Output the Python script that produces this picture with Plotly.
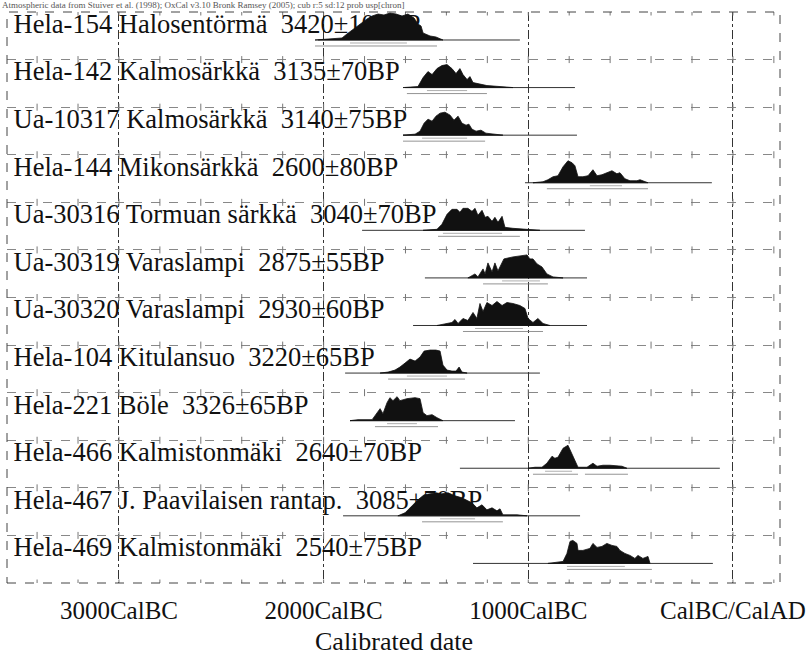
import plotly.graph_objects as go

# ---------------- data (years are BC) ----------------
labels = [
    "Hela-154 Halosentörmä\u00a0 3420±100BP",
    "Hela-142 Kalmosärkkä\u00a0 3135±70BP",
    "Ua-10317 Kalmosärkkä\u00a0 3140±75BP",
    "Hela-144 Mikonsärkkä\u00a0 2600±80BP",
    "Ua-30316 Tormuan särkkä\u00a0 3040±70BP",
    "Ua-30319 Varaslampi\u00a0 2875±55BP",
    "Ua-30320 Varaslampi\u00a0 2930±60BP",
    "Hela-104 Kitulansuo\u00a0 3220±65BP",
    "Hela-221 Böle\u00a0 3326±65BP",
    "Hela-466 Kalmistonmäki\u00a0 2640±70BP",
    "Hela-467 J. Paavilaisen rantap.\u00a0 3085±70BP",
    "Hela-469 Kalmistonmäki\u00a0 2540±75BP",
]

years_1 = [2042, 1969, 1910, 1886, 1861, 1837, 1812, 1788, 1763, 1734, 1705, 1676, 1646, 1617, 1588, 1558, 1539, 1524, 1514, 1480, 1451, 1417]
prob_1 = [0, 1, 2, 6, 10, 14, 18, 21, 24, 26, 25, 27, 26, 24, 26, 22, 16, 14, 7, 4, 3, 0]

years_2 = [1612, 1539, 1514, 1490, 1470, 1446, 1422, 1397, 1373, 1353, 1334, 1319, 1299, 1285, 1270, 1246, 1226, 1202, 1138, 1075]
prob_2 = [0, 1, 10, 16, 13, 19, 22, 23, 19, 14, 19, 13, 8, 11, 5, 4, 3, 2, 1, 0]

years_3 = [1612, 1553, 1529, 1509, 1490, 1470, 1451, 1431, 1407, 1382, 1363, 1343, 1324, 1304, 1290, 1275, 1255, 1231, 1207, 1163, 1124]
prob_3 = [0, 1, 4, 12, 16, 14, 19, 22, 23, 20, 15, 19, 12, 10, 11, 6, 4, 5, 2, 1, 0]

years_4 = [977, 928, 904, 879, 855, 830, 806, 786, 772, 757, 733, 708, 684, 664, 640, 616, 591, 567, 552, 528, 503, 469, 454, 415]
prob_4 = [0, 1, 3, 6, 7, 16, 22, 20, 17, 6, 6, 7, 13, 7, 8, 10, 12, 9, 10, 4, 2, 2, 3, 0]

years_5 = [1514, 1446, 1422, 1397, 1373, 1348, 1334, 1319, 1295, 1275, 1260, 1246, 1226, 1211, 1197, 1177, 1163, 1148, 1128, 1114, 1075, 1026, 943]
prob_5 = [0, 1, 6, 16, 21, 21, 18, 22, 22, 19, 22, 15, 20, 13, 14, 9, 13, 8, 14, 3, 2, 1, 0]

years_6 = [1295, 1260, 1246, 1221, 1211, 1197, 1177, 1163, 1148, 1128, 1119, 1075, 1041, 1006, 992, 977, 957, 933, 909, 879, 830]
prob_6 = [0, 4, 1, 9, 4, 15, 6, 15, 7, 16, 19, 21, 22, 23, 19, 19, 14, 11, 4, 1, 0]

years_7 = [1446, 1373, 1358, 1343, 1319, 1295, 1270, 1251, 1236, 1221, 1202, 1177, 1153, 1128, 1104, 1075, 1041, 1016, 1001, 977, 953, 928, 894]
prob_7 = [0, 3, 6, 2, 7, 5, 13, 7, 22, 14, 23, 20, 24, 20, 23, 22, 20, 17, 7, 3, 7, 2, 0]

years_8 = [1724, 1685, 1651, 1627, 1602, 1578, 1553, 1529, 1509, 1480, 1451, 1431, 1417, 1397, 1373, 1353, 1338, 1324, 1299]
prob_8 = [0, 1, 3, 6, 10, 14, 12, 16, 22, 23, 23, 22, 8, 3, 2, 2, 6, 1, 0]

years_9 = [1871, 1832, 1763, 1739, 1724, 1710, 1690, 1676, 1661, 1641, 1627, 1593, 1553, 1529, 1514, 1495, 1470, 1446, 1417]
prob_9 = [0, 1, 1, 8, 12, 7, 18, 23, 20, 24, 20, 22, 23, 22, 8, 5, 6, 3, 0]

years_10 = [1001, 967, 933, 909, 884, 870, 855, 830, 806, 786, 772, 757, 713, 684, 664, 635, 601, 567, 542, 518]
prob_10 = [0, 1, 1, 5, 12, 10, 11, 20, 23, 14, 7, 1, 1, 5, 2, 3, 3, 2, 2, 0]

years_11 = [1637, 1602, 1568, 1539, 1509, 1480, 1451, 1422, 1392, 1358, 1324, 1295, 1275, 1251, 1226, 1202, 1177, 1153, 1138, 1124, 1055, 1006]
prob_11 = [0, 3, 10, 16, 21, 22, 23, 22, 23, 20, 18, 15, 13, 8, 11, 6, 8, 5, 7, 1, 1, 0]

years_12 = [904, 860, 830, 811, 796, 782, 762, 757, 733, 699, 684, 664, 640, 616, 591, 567, 552, 528, 503, 479, 464, 440, 415, 405]
prob_12 = [0, 1, 2, 10, 22, 23, 20, 13, 13, 15, 20, 16, 17, 20, 18, 17, 13, 10, 8, 5, 8, 5, 7, 0]

dist_years = [years_1, years_2, years_3, years_4, years_5, years_6,
              years_7, years_8, years_9, years_10, years_11, years_12]
dist_probs = [prob_1, prob_2, prob_3, prob_4, prob_5, prob_6,
              prob_7, prob_8, prob_9, prob_10, prob_11, prob_12]

# overall plotted range line of each date (BC start, BC end)
range_start = [2027, 1602, 1612, 1016, 1812, 1505, 1563, 1895, 1871, 1334, 1905, 1270]
range_end = [1041, 772, 762, 103, 723, 713, 713, 943, 1065, 64, 747, 98]

# 68.2% and 95.4% ranges (BC)
sigma1 = [[(1871, 1593)], [(1495, 1299)], [(1519, 1299)], [(699, 542)], [(1417, 1128)],
          [(1128, 943)], [(1260, 1026)], [(1593, 1397)], [(1690, 1544)], [(918, 786)],
          [(1431, 1260)], [(811, 528)]]
sigma2 = [[(2042, 1446)], [(1593, 1202)], [(1612, 1211)], [(909, 415)], [(1441, 1041)],
          [(1221, 904)], [(1319, 928)], [(1685, 1309)], [(1749, 1441)], [(977, 757), (723, 513)],
          [(1519, 1124)], [(811, 396)]]

tick_vals = [-3000, -2000, -1000, 0]
tick_text = ["3000CalBC", "2000CalBC", "1000CalBC", "CalBC/CalAD"]

# ---------------- layout helpers ----------------
ROW_PX = 47.6
BASE = 28 / ROW_PX        # baseline offset inside a row
HSCALE = 1 / ROW_PX       # one prob unit = one pixel
FONT = "Liberation Serif"
n = len(labels)

fig = go.Figure()

# small tick marks along row separators
tx, ty = [], []
for r in range(n + 1):
    for yr in range(-3400, 201, 200):
        tx.append(yr)
        ty.append(r)
fig.add_trace(go.Scatter(x=tx, y=ty, mode="markers", hoverinfo="skip",
                         marker=dict(symbol="line-ns-open", size=5, color="#777",
                                     line=dict(width=1, color="#777"))))

# labels (drawn below the distributions)
fig.add_trace(go.Scatter(x=[-3515] * n, y=[i + 0.30 for i in range(n)], text=labels,
                         mode="text", textposition="middle right", hoverinfo="skip",
                         cliponaxis=False,
                         textfont=dict(family=FONT, size=26.5, color="#111")))

# range lines
lx, ly = [], []
for i in range(n):
    lx += [-range_start[i], -range_end[i], None]
    ly += [i + BASE, i + BASE, None]
fig.add_trace(go.Scatter(x=lx, y=ly, mode="lines", hoverinfo="skip",
                         line=dict(color="#333", width=1)))

# sigma bars
for bars, off, col in ((sigma1, 3, "#999"), (sigma2, 6, "#777")):
    bx, by = [], []
    for i in range(n):
        for a, b in bars[i]:
            bx += [-a, -b, None]
            by += [i + BASE + off * HSCALE] * 2 + [None]
    fig.add_trace(go.Scatter(x=bx, y=by, mode="lines", hoverinfo="skip",
                             line=dict(color=col, width=0.8)))

# distributions
for i in range(n):
    xs = [-v for v in dist_years[i]]
    ys = [i + BASE - p * HSCALE for p in dist_probs[i]]
    xs = xs + [xs[-1], xs[0]]
    ys = ys + [i + BASE, i + BASE]
    fig.add_trace(go.Scatter(x=xs, y=ys, mode="lines", fill="toself",
                             fillcolor="#111", hoverinfo="skip",
                             line=dict(color="#111", width=0.8)))

fig.update_layout(
    width=810, height=656,
    margin=dict(l=7, r=30, t=12, b=73, autoexpand=False),
    paper_bgcolor="white", plot_bgcolor="white",
    showlegend=False,
    xaxis=dict(range=[-3547, 230], tickvals=tick_vals, ticktext=tick_text,
               showgrid=True, gridcolor="#333", griddash="dashdot", gridwidth=1,
               zeroline=False, showline=False, ticks="", automargin=False,
               tickfont=dict(family=FONT, size=25, color="#111"),
               ticklabelstandoff=10),
    yaxis=dict(range=[n, 0], tickvals=list(range(n + 1)), showticklabels=False,
               showgrid=True, gridcolor="#888", griddash="dash", gridwidth=1,
               zeroline=False, showline=False, ticks="", automargin=False),
    shapes=[dict(type="rect", xref="paper", yref="paper", x0=0, x1=1, y0=0, y1=1,
                 line=dict(color="#444", width=1, dash="dash"), layer="above")],
    annotations=[
        dict(text="Calibrated date", xref="paper", yref="paper", x=0.5, y=0,
             yshift=-58, xanchor="center", yanchor="middle", showarrow=False,
             font=dict(family=FONT, size=26, color="#111")),
        dict(text="Atmospheric data from Stuiver et al. (1998); OxCal v3.10 Bronk Ramsey (2005); cub r:5 sd:12 prob usp[chron]",
             xref="paper", yref="paper", x=0, y=1, xshift=-7, yshift=7,
             xanchor="left", yanchor="middle", showarrow=False,
             font=dict(family=FONT, size=9, color="#555")),
    ],
)

fig.write_html("out.html", config={"displayModeBar": False},
               post_script="document.body.style.margin='0px';document.body.style.padding='0px';")
